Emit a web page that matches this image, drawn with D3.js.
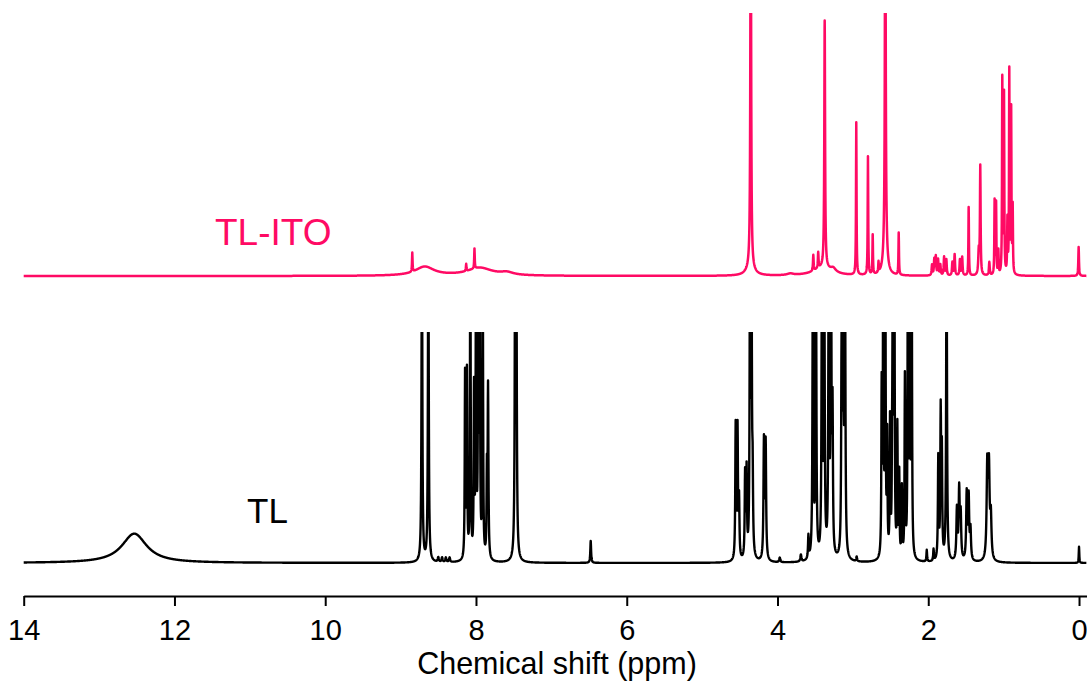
<!DOCTYPE html>
<html>
<head>
<meta charset="utf-8">
<script src="https://cdn.jsdelivr.net/npm/d3@7"></script>
<style>
  html, body { margin: 0; padding: 0; background: #ffffff; }
  svg { display: block; }
  text { font-family: "Liberation Sans", Arial, sans-serif; }
</style>
</head>
<body>
<div id="chart"></div>
<script>
// ---- Data: peak lists (position in ppm, height in a.u. 0-100 = panel top, half width in ppm)
const tickValues = [14, 12, 10, 8, 6, 4, 2, 0];
const axisTitle = "Chemical shift (ppm)";
const seriesNames = ["TL-ITO", "TL"];

const tlitoPpm    = [8.845, 8.68, 8.13, 8.02, 7.95, 7.59, 4.355, 4.36, 3.83, 3.525, 3.46, 3.40, 3.374, 3.26, 2.955, 2.80, 2.737, 2.66, 2.57, 2.57, 2.392,
                     1.95, 1.92, 1.90, 1.87, 1.84, 1.79, 1.76, 1.68, 1.65, 1.58, 1.55, 1.464, 1.33, 1.31, 1.19, 1.12, 1.10, 1.07, 1.018, 0.995, 0.95, 0.925, 0.90, 0.88, 0.005];
const tlitoHeight = [7.2, 3.4, 2.7, 7.6, 3.0, 1.0, 160, 3.0, 0.6, 6, 6, 3.0, 94, 1.5, 58, 45, 15, 4, 160, 12, 16,
                     4, 6, 7, 6, 4, 7, 6, 5, 8, 6, 7, 26, 9, 41, 5, 28, 27, 9, 74, 68, 20, 77, 62, 25, 11];
const tlitoWidth  = [0.004, 0.15, 0.004, 0.004, 0.2, 0.1, 0.006, 0.06, 0.05, 0.005, 0.005, 0.15, 0.006, 0.04, 0.004, 0.004, 0.004, 0.004, 0.006, 0.025, 0.004,
                     0.006, 0.006, 0.006, 0.006, 0.006, 0.006, 0.006, 0.006, 0.006, 0.006, 0.006, 0.004, 0.008, 0.005, 0.006, 0.004, 0.004, 0.004, 0.004, 0.004, 0.004, 0.004, 0.004, 0.004, 0.005];

const tlPpm    = [12.533, 8.717, 8.632, 8.50, 8.45, 8.40, 8.35, 8.145, 8.12, 8.075, 8.026, 8.00, 7.97, 7.95, 7.91, 7.855, 7.84, 7.48, 7.465, 6.478,
                  4.555, 4.53, 4.51, 4.43, 4.41, 4.365, 4.345, 4.33, 4.18, 4.157, 3.97, 3.69, 3.59, 3.53, 3.49, 3.41, 3.38, 3.32, 3.29, 3.27, 3.15, 3.13, 3.105, 2.95,
                  2.618, 2.597, 2.57, 2.545, 2.507, 2.48, 2.47, 2.45, 2.41, 2.385, 2.35, 2.31, 2.27, 2.245, 2.22,
                  2.02, 1.93, 1.867, 1.835, 1.82, 1.757, 1.62, 1.59, 1.57, 1.49, 1.464, 1.44, 1.217, 1.195, 1.17, 0.0];
const tlHeight = [12.7, 150, 150, 2, 2, 2, 2, 80, 80, 150, 72, 130, 130, 130, 130, 35, 74, 150, 150, 9.5,
                  58, 56, 25, 36, 37, 130, 130, 30, 51, 50, 2, 3, 10, 150, 150, 150, 150, 150, 150, 60, 85, 150, 150, 2,
                  72, 150, 150, 50, 58, 28, 150, 150, 56, 36, 30, 78, 150, 150, 150,
                  5, 5, 44, 62, 44, 150, 22, 30, 19, 29, 27, 13, 40, 38, 18, 7];
const tlWidth  = [0.2, 0.006, 0.006, 0.008, 0.008, 0.008, 0.008, 0.005, 0.005, 0.005, 0.005, 0.005, 0.005, 0.005, 0.005, 0.005, 0.006, 0.006, 0.006, 0.006,
                  0.006, 0.006, 0.006, 0.006, 0.006, 0.006, 0.006, 0.006, 0.007, 0.007, 0.008, 0.008, 0.006, 0.006, 0.006, 0.006, 0.006, 0.006, 0.006, 0.006, 0.006, 0.006, 0.006, 0.006,
                  0.005, 0.005, 0.005, 0.005, 0.005, 0.005, 0.005, 0.005, 0.005, 0.005, 0.005, 0.005, 0.005, 0.005, 0.005,
                  0.005, 0.005, 0.006, 0.006, 0.006, 0.006, 0.008, 0.008, 0.008, 0.008, 0.008, 0.008, 0.01, 0.01, 0.01, 0.004];

// ---- Layout
const W = 1087, H = 686;
const svg = d3.select("#chart").append("svg").attr("width", W).attr("height", H);

const xLeft = 23.7, pxPerPpm = 75.38;
const x = d3.scaleLinear().domain([14, -0.1]).range([xLeft, xLeft + 14.1 * pxPerPpm]);

const yPink  = d3.scaleLinear().domain([0, 100]).range([276, 13]);
const yBlack = d3.scaleLinear().domain([0, 100]).range([563, 332]);

// spectrum from peak list
function spectrum(ppm, height, width) {
  const pts = d3.range(14, -0.1, -0.0025).concat(ppm);
  pts.sort((a, b) => b - a);
  return pts.map(p => {
    let s = 0;
    for (let i = 0; i < ppm.length; i++) {
      const d = (p - ppm[i]) / width[i];
      s += height[i] / (1 + d * d);
    }
    return [p, s];
  });
}

const defs = svg.append("defs");
defs.append("clipPath").attr("id", "clipPink").append("rect")
  .attr("x", 0).attr("y", yPink(100)).attr("width", W).attr("height", 300 - yPink(100));
defs.append("clipPath").attr("id", "clipBlack").append("rect")
  .attr("x", 0).attr("y", yBlack(100)).attr("width", W).attr("height", 590 - yBlack(100));

const pink = "#ff0a64";

const linePink = d3.line().x(d => x(d[0])).y(d => yPink(d[1]));
const lineBlack = d3.line().x(d => x(d[0])).y(d => yBlack(d[1]));

svg.append("path")
  .datum(spectrum(tlitoPpm, tlitoHeight, tlitoWidth))
  .attr("clip-path", "url(#clipPink)")
  .attr("fill", "none").attr("stroke", pink).attr("stroke-width", 2.5)
  .attr("stroke-linejoin", "round")
  .attr("d", linePink);

svg.append("path")
  .datum(spectrum(tlPpm, tlHeight, tlWidth))
  .attr("clip-path", "url(#clipBlack)")
  .attr("fill", "none").attr("stroke", "#000").attr("stroke-width", 2.4)
  .attr("stroke-linejoin", "round")
  .attr("d", lineBlack);

// labels
svg.append("text").attr("x", 215).attr("y", 245).attr("font-size", 37)
  .attr("fill", pink).text(seriesNames[0]);
svg.append("text").attr("x", 247).attr("y", 523).attr("font-size", 35)
  .attr("fill", "#000").text(seriesNames[1]);

// axis
const axis = d3.axisBottom(x).tickValues(tickValues).tickSize(10).tickSizeOuter(0).tickPadding(13)
  .tickFormat(d3.format("d"));
const gAxis = svg.append("g").attr("transform", "translate(0,596)").call(axis);
gAxis.select(".domain").attr("stroke", "#000").attr("stroke-width", 2);
gAxis.selectAll(".tick line").attr("stroke", "#000").attr("stroke-width", 2);
gAxis.selectAll(".tick text").attr("font-size", 29).attr("fill", "#000")
  .attr("font-family", "'Liberation Sans', Arial, sans-serif");

svg.append("text").attr("x", 557).attr("y", 674).attr("text-anchor", "middle")
  .attr("font-size", 30.5).attr("fill", "#000").text(axisTitle);
</script>
</body>
</html>
